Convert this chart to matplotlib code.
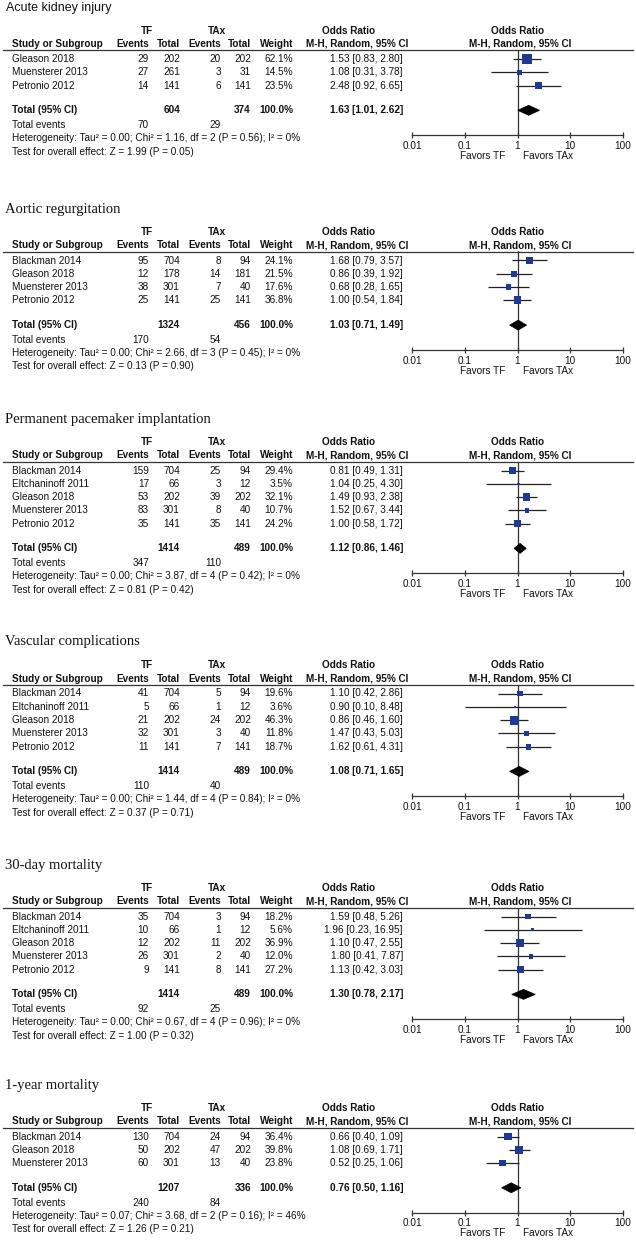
import numpy as np
import matplotlib
matplotlib.use('Agg')
from matplotlib import pyplot as plt
from matplotlib.patches import Polygon
from matplotlib.ticker import NullLocator

plt.rcParams['font.family'] = ['Liberation Sans', 'DejaVu Sans']

# data
titles = ['Acute kidney injury', 'Aortic regurgitation', 'Permanent pacemaker implantation',
          'Vascular complications', '30-day mortality', '1-year mortality']
five = ['Blackman 2014', 'Eltchaninoff 2011', 'Gleason 2018', 'Muensterer 2013', 'Petronio 2012']
studies = [
    ['Gleason 2018', 'Muensterer 2013', 'Petronio 2012'],
    ['Blackman 2014', 'Gleason 2018', 'Muensterer 2013', 'Petronio 2012'],
    five, five, five,
    ['Blackman 2014', 'Gleason 2018', 'Muensterer 2013'],
]
tf_events = [[29, 27, 14], [95, 12, 38, 25], [159, 17, 53, 83, 35], [41, 5, 21, 32, 11],
             [35, 10, 12, 26, 9], [130, 50, 60]]
tf_total = [[202, 261, 141], [704, 178, 301, 141], [704, 66, 202, 301, 141], [704, 66, 202, 301, 141],
            [704, 66, 202, 301, 141], [704, 202, 301]]
tax_events = [[20, 3, 6], [8, 14, 7, 25], [25, 3, 39, 8, 35], [5, 1, 24, 3, 7],
              [3, 1, 11, 2, 8], [24, 47, 13]]
tax_total = [[202, 31, 141], [94, 181, 40, 141], [94, 12, 202, 40, 141], [94, 12, 202, 40, 141],
             [94, 12, 202, 40, 141], [94, 202, 40]]
weights = [[62.1, 14.5, 23.5], [24.1, 21.5, 17.6, 36.8], [29.4, 3.5, 32.1, 10.7, 24.2],
           [19.6, 3.6, 46.3, 11.8, 18.7], [18.2, 5.6, 36.9, 12.0, 27.2], [36.4, 39.8, 23.8]]
or_est = [[1.53, 1.08, 2.48], [1.68, 0.86, 0.68, 1.00], [0.81, 1.04, 1.49, 1.52, 1.00],
          [1.10, 0.90, 0.86, 1.47, 1.62], [1.59, 1.96, 1.10, 1.80, 1.13], [0.66, 1.08, 0.52]]
or_lo = [[0.83, 0.31, 0.92], [0.79, 0.39, 0.28, 0.54], [0.49, 0.25, 0.93, 0.67, 0.58],
         [0.42, 0.10, 0.46, 0.43, 0.61], [0.48, 0.23, 0.47, 0.41, 0.42], [0.40, 0.69, 0.25]]
or_hi = [[2.80, 3.78, 6.65], [3.57, 1.92, 1.65, 1.84], [1.31, 4.30, 2.38, 3.44, 1.72],
         [2.86, 8.48, 1.60, 5.03, 4.31], [5.26, 16.95, 2.55, 7.87, 3.03], [1.09, 1.71, 1.06]]
pool_est = [1.63, 1.03, 1.12, 1.08, 1.30, 0.76]
pool_lo = [1.01, 0.71, 0.86, 0.71, 0.78, 0.50]
pool_hi = [2.62, 1.49, 1.46, 1.65, 2.17, 1.16]
tau2 = [0.00, 0.00, 0.00, 0.00, 0.00, 0.07]
chi2 = [1.16, 2.66, 3.87, 1.44, 0.67, 3.68]
dfree = [2, 3, 4, 4, 4, 2]
p_het = [0.56, 0.45, 0.42, 0.84, 0.96, 0.16]
i2 = [0, 0, 0, 0, 0, 46]
z_val = [1.99, 0.13, 0.81, 0.37, 1.00, 1.26]
p_z = [0.05, 0.90, 0.42, 0.71, 0.32, 0.21]
ticks = [0.01, 0.1, 1, 10, 100]
tick_labels = ['0.01', '0.1', '1', '10', '100']

# layout in pixels
W, H = 636, 1240
title_y = [7.5, 209, 419, 642, 865, 1085]
pitch = 13.3
fs = 7.2
sq_blue = '#1f3a93'
ink = '#111111'

fig = plt.figure(figsize=(W / 100, H / 100), dpi=100)
bg = fig.add_axes([0, 0, 1, 1])
bg.set_xlim(0, W)
bg.set_ylim(H, 0)
bg.axis('off')


def put(x, y, s, ha='left', bold=False):
    bg.text(x, y, s, ha=ha, va='center', fontsize=fs, color=ink,
            fontweight='bold' if bold else 'normal')


for k in range(len(titles)):
    ty = title_y[k]
    if k == 0:
        bg.text(6, ty, titles[k], ha='left', va='center', fontsize=9, color=ink,
                family='Liberation Sans')
    else:
        bg.text(5, ty, titles[k], ha='left', va='center', fontsize=10.5, color=ink,
                family='Liberation Serif')

    y_grp = ty + 23
    y_hdr = ty + 36.5
    y_line = ty + 42.5
    ys = ty + 51.5 + pitch * np.arange(len(studies[k]))
    y_tot = ys[-1] + 24.7
    y_ev = y_tot + 14.7
    y_het = y_ev + 13.3
    y_test = y_het + 13.3
    y_axis = y_tot + 25

    # column headers
    put(147, y_grp, 'TF', 'center', True)
    put(217, y_grp, 'TAx', 'center', True)
    put(349, y_grp, 'Odds Ratio', 'center', True)
    put(518, y_grp, 'Odds Ratio', 'center', True)
    put(12, y_hdr, 'Study or Subgroup', bold=True)
    put(149, y_hdr, 'Events', 'right', True)
    put(180, y_hdr, 'Total', 'right', True)
    put(221, y_hdr, 'Events', 'right', True)
    put(251, y_hdr, 'Total', 'right', True)
    put(293, y_hdr, 'Weight', 'right', True)
    put(357, y_hdr, 'M-H, Random, 95% CI', 'center', True)
    put(520, y_hdr, 'M-H, Random, 95% CI', 'center', True)
    bg.plot([3, 633], [y_line, y_line], color='#333333', lw=0.9)

    # study rows
    for i, name in enumerate(studies[k]):
        put(12, ys[i], name)
        put(149, ys[i], str(tf_events[k][i]), 'right')
        put(180, ys[i], str(tf_total[k][i]), 'right')
        put(221, ys[i], str(tax_events[k][i]), 'right')
        put(251, ys[i], str(tax_total[k][i]), 'right')
        put(293, ys[i], f'{weights[k][i]:.1f}%', 'right')
        put(403, ys[i], f'{or_est[k][i]:.2f} [{or_lo[k][i]:.2f}, {or_hi[k][i]:.2f}]', 'right')

    # totals
    put(12, y_tot, 'Total (95% CI)', bold=True)
    put(180, y_tot, str(sum(tf_total[k])), 'right', True)
    put(251, y_tot, str(sum(tax_total[k])), 'right', True)
    put(293, y_tot, '100.0%', 'right', True)
    put(403, y_tot, f'{pool_est[k]:.2f} [{pool_lo[k]:.2f}, {pool_hi[k]:.2f}]', 'right', True)
    put(12, y_ev, 'Total events')
    put(149, y_ev, str(sum(tf_events[k])), 'right')
    put(221, y_ev, str(sum(tax_events[k])), 'right')
    put(12, y_het, f'Heterogeneity: Tau\u00b2 = {tau2[k]:.2f}; Chi\u00b2 = {chi2[k]:.2f}, '
                   f'df = {dfree[k]} (P = {p_het[k]:.2f}); I\u00b2 = {i2[k]}%')
    put(12, y_test, f'Test for overall effect: Z = {z_val[k]:.2f} (P = {p_z[k]:.2f})')
    put(505, y_axis + 20.5, 'Favors TF', 'right')
    put(523, y_axis + 20.5, 'Favors TAx', 'left')

    # forest panel
    ax = fig.add_axes([412 / W, 1 - y_axis / H, 211 / W, (y_axis - y_line) / H])
    ax.patch.set_alpha(0)
    ax.set_xscale('log')
    ax.set_xlim(0.01, 100)
    ax.set_ylim(y_axis, y_line)
    for sp in ['top', 'left', 'right']:
        ax.spines[sp].set_visible(False)
    ax.spines['bottom'].set_linewidth(0.9)
    ax.spines['bottom'].set_color('#333333')
    ax.set_yticks([])
    ax.set_xticks(ticks)
    ax.set_xticklabels(tick_labels, fontsize=fs, color=ink)
    ax.xaxis.set_minor_locator(NullLocator())
    ax.tick_params(axis='x', direction='inout', length=5, width=0.9, pad=1.5, color='#333333')
    ax.axvline(1, color='#333333', lw=0.9)
    ax.hlines(ys, or_lo[k], or_hi[k], color='#222222', lw=0.9, zorder=2)
    ax.scatter(or_est[k], ys, s=0.9 * np.array(weights[k]), marker='s', color=sq_blue,
               linewidths=0, zorder=3)
    dia = Polygon([[pool_lo[k], y_tot], [pool_est[k], y_tot - 5],
                   [pool_hi[k], y_tot], [pool_est[k], y_tot + 5]],
                  closed=True, facecolor='black', edgecolor='black', lw=0.5, zorder=3)
    ax.add_patch(dia)

fig.savefig('out.png', dpi=100)
